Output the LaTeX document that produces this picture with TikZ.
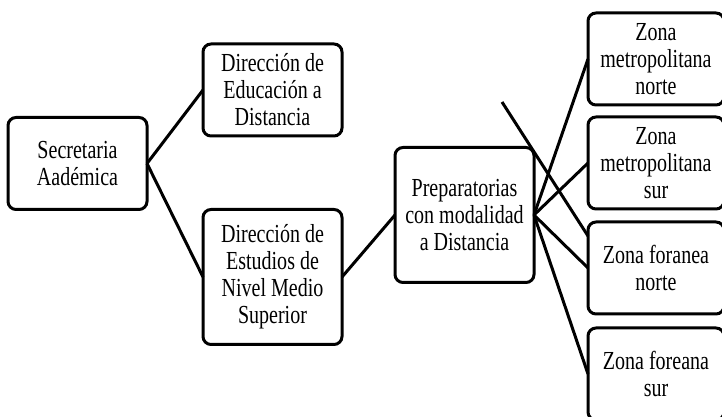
\documentclass[tikz,border=0pt]{standalone}
\usepackage{fontspec}
\setmainfont{Liberation Serif}[FakeStretch=0.77]
\usetikzlibrary{positioning}

\begin{document}
\begin{tikzpicture}[
    x=1pt, y=1pt,
    orgbox/.style={rectangle, rounded corners=8pt, draw=black, line width=3pt, fill=white, align=center, inner sep=2pt, outer sep=0pt, minimum width=139pt, minimum height=92pt, font=\fontsize{26}{27}\selectfont},
    tallbox/.style={orgbox, minimum height=135pt},
    zonebox/.style={orgbox, minimum width=136pt},
    link/.style={line width=3pt}
   ]
   \useasboundingbox (0,0) rectangle (722,417);
   \clip (0,0) rectangle (722,417);
   \node[orgbox]   (secretaria)                                           at (77.5,253.5) {Secretaria\\Aadémica};
   \node[orgbox]   (educacion)   [right=56pt of secretaria, yshift=73.5pt]   {Dirección de\\Educación a\\Distancia};
   \node[tallbox]  (estudios)    [right=56pt of secretaria, yshift=-113.5pt] {Dirección de\\Estudios de\\Nivel Medio\\Superior};
   \node[tallbox]  (prepas)      [right=53pt of estudios, yshift=62pt]       {Preparatorias\\con modalidad\\a Distancia};
   \node[zonebox]  (metrosur)    [right=54pt of prepas, yshift=52pt]         {Zona\\metropolitana\\sur};
   \node[zonebox]  (metronorte)  [above=12pt of metrosur]                    {Zona\\metropolitana\\norte};
   \node[zonebox]  (foranorte)   [below=13pt of metrosur]                    {Zona foranea\\norte};
   \node[zonebox]  (forasur)     [below=14pt of foranorte]                   {Zona foreana\\sur};
   \coordinate (suelto) at (502,315);

  \draw[link] (secretaria.east) -- (educacion.west);
  \draw[link] (secretaria.east) -- (estudios.west);
  \draw[link] (estudios.east) -- (prepas.west);
  \draw[link] (prepas.east) -- (metronorte.west);
  \draw[link] (prepas.east) -- (metrosur.west);
  \draw[link] (prepas.east) -- (foranorte.west);
  \draw[link] (prepas.east) -- (forasur.west);
  \draw[link] (suelto) -- ([yshift=-14pt]foranorte.north west);
 \end{tikzpicture}
\end{document}
